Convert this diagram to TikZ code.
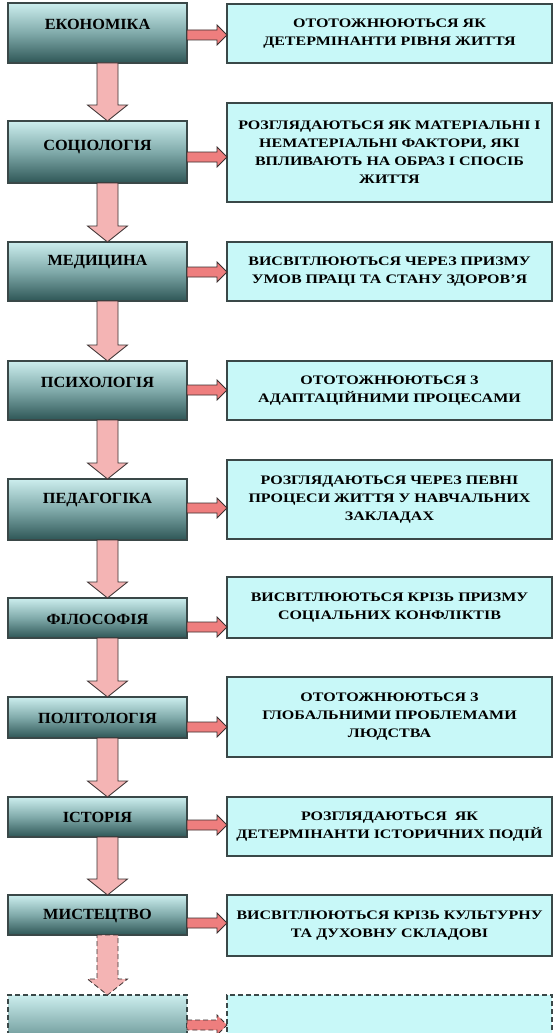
\documentclass[tikz,border=0pt]{standalone}
\usepackage{fontspec}
\setmainfont{Liberation Serif}
\newfontfamily\lfont{Liberation Serif}[FakeStretch=1.05]
\newfontfamily\rfont{Liberation Serif}[FakeStretch=1.23]
\usetikzlibrary{calc}
\definecolor{rfill}{HTML}{C8F8F8}
\definecolor{edge}{HTML}{3A4848}
\definecolor{ltop}{HTML}{CCEEEE}
\definecolor{lmid}{HTML}{80AAAA}
\definecolor{lbot}{HTML}{2E5656}
\definecolor{vpink}{HTML}{F4B4B4}
\definecolor{hpink}{HTML}{EE7E7E}
\definecolor{aedge}{HTML}{3A3030}
\tikzset{
  lbox/.style={draw=edge, line width=1.1pt, top color=ltop, bottom color=lbot, middle color=lmid,
    minimum width=179pt, inner sep=0pt, outer sep=0pt, anchor=north west},
  rbox/.style={draw=edge, line width=1.3pt, fill=rfill, minimum width=325pt, inner sep=0pt,
    outer sep=0pt, anchor=north west, align=center,
    font=\rfont\bfseries\fontsize{13}{18}\selectfont},
  ltext/.style={font=\lfont\bfseries\fontsize{15.5}{18}\selectfont, text=black, inner sep=0pt},
  varrow/.style={draw=aedge, line width=0.8pt, fill=vpink, line join=miter},
  harrow/.style={draw=aedge, line width=0.8pt, fill=hpink, line join=miter},
  dashedline/.style={dash pattern=on 5pt off 3pt}
}
\newcommand\vconn[3][]{%
  \draw[varrow,#1] let \p1=($(#2.south)+(10pt,0pt)$), \p2=($(#3.north)+(10pt,0pt)$) in
    (\x1-10.5pt,\y1) -- (\x1+10.5pt,\y1) -- (\x1+10.5pt,\y2+16pt) -- (\x1+20pt,\y2+16pt)
    -- (\x1,\y2) -- (\x1-20pt,\y2+16pt) -- (\x1-10.5pt,\y2+16pt) -- cycle;}
\newcommand\hconn[4][]{%
  \draw[harrow,#1] let \p1=(#2.east), \p2=(#3.west), \p3=(0,#4) in
    (\x1,\y3+5pt) -- (\x2-10pt,\y3+5pt) -- (\x2-10pt,\y3+10pt) -- (\x2,\y3)
    -- (\x2-10pt,\y3-10pt) -- (\x2-10pt,\y3-5pt) -- (\x1,\y3-5pt) -- cycle;}
\begin{document}
\begin{tikzpicture}[x=1pt,y=-1pt]
\useasboundingbox (0,0) rectangle (555,1033);
\clip (0,0) rectangle (555,1033);
\fill[white] (0,0) rectangle (555,1033);

% left boxes
\node[lbox, minimum height=60pt] (l1) at (8,3) {};
\node[lbox, minimum height=62pt] (l2) at (8,121) {};
\node[lbox, minimum height=59pt] (l3) at (8,242) {};
\node[lbox, minimum height=59pt] (l4) at (8,361) {};
\node[lbox, minimum height=61pt] (l5) at (8,479) {};
\node[lbox, minimum height=40pt] (l6) at (8,598) {};
\node[lbox, minimum height=41pt] (l7) at (8,697) {};
\node[lbox, minimum height=40pt] (l8) at (8,797) {};
\node[lbox, minimum height=40pt] (l9) at (8,895) {};
\node[lbox, dashedline, minimum height=70pt] (l10) at (8,995) {};

% left labels
\node[ltext] (t1) at (97.5,24) {ЕКОНОМІКА};
\node[ltext] (t2) at (97.5,147) {СОЦІОЛОГІЯ};
\node[ltext] (t3) at (97.5,262) {МЕДИЦИНА};
\node[ltext] (t4) at (97.5,382) {ПСИХОЛОГІЯ};
\node[ltext] (t5) at (97.5,500) {ПЕДАГОГІКА};
\node[ltext] (t6) at (97.5,619) {ФІЛОСОФІЯ};
\node[ltext] (t7) at (97.5,718) {ПОЛІТОЛОГІЯ};
\node[ltext] (t8) at (97.5,817) {ІСТОРІЯ};
\node[ltext] (t9) at (97.5,916) {МИСТЕЦТВО};

% right boxes
\node[rbox, minimum height=59pt] (r1) at (227,4) {ОТОТОЖНЮЮТЬСЯ ЯК\\ДЕТЕРМІНАНТИ РІВНЯ ЖИТТЯ};
\node[rbox, minimum height=99pt] (r2) at (227,103) {РОЗГЛЯДАЮТЬСЯ ЯК МАТЕРІАЛЬНІ І\\НЕМАТЕРІАЛЬНІ ФАКТОРИ, ЯКІ\\ВПЛИВАЮТЬ НА ОБРАЗ І СПОСІБ\\ЖИТТЯ};
\node[rbox, minimum height=59pt] (r3) at (227,242) {ВИСВІТЛЮЮТЬСЯ ЧЕРЕЗ ПРИЗМУ\\УМОВ ПРАЦІ ТА СТАНУ ЗДОРОВ’Я};
\node[rbox, minimum height=59pt] (r4) at (227,361) {ОТОТОЖНЮЮТЬСЯ З\\АДАПТАЦІЙНИМИ ПРОЦЕСАМИ};
\node[rbox, minimum height=79pt] (r5) at (227,460) {РОЗГЛЯДАЮТЬСЯ ЧЕРЕЗ ПЕВНІ\\ПРОЦЕСИ ЖИТТЯ У НАВЧАЛЬНИХ\\ЗАКЛАДАХ};
\node[rbox, minimum height=61pt] (r6) at (227,577) {ВИСВІТЛЮЮТЬСЯ КРІЗЬ ПРИЗМУ\\СОЦІАЛЬНИХ КОНФЛІКТІВ};
\node[rbox, minimum height=80pt] (r7) at (227,677) {ОТОТОЖНЮЮТЬСЯ З\\ГЛОБАЛЬНИМИ ПРОБЛЕМАМИ\\ЛЮДСТВА};
\node[rbox, minimum height=59pt] (r8) at (227,797) {РОЗГЛЯДАЮТЬСЯ\ \ ЯК\\ДЕТЕРМІНАНТИ ІСТОРИЧНИХ ПОДІЙ};
\node[rbox, minimum height=61pt] (r9) at (227,895) {ВИСВІТЛЮЮТЬСЯ КРІЗЬ КУЛЬТУРНУ\\ТА ДУХОВНУ СКЛАДОВІ};
\node[rbox, dashedline, minimum height=70pt] (r10) at (227,995) {};

% vertical connectors
\vconn{l1}{l2}
\vconn{l2}{l3}
\vconn{l3}{l4}
\vconn{l4}{l5}
\vconn{l5}{l6}
\vconn{l6}{l7}
\vconn{l7}{l8}
\vconn{l8}{l9}
\vconn[dashedline]{l9}{l10}

% horizontal connectors
\hconn{l1}{r1}{35}
\hconn{l2}{r2}{157}
\hconn{l3}{r3}{272}
\hconn{l4}{r4}{390}
\hconn{l5}{r5}{508}
\hconn{l6}{r6}{627}
\hconn{l7}{r7}{727}
\hconn{l8}{r8}{825}
\hconn{l9}{r9}{923}
\hconn[dashedline]{l10}{r10}{1025}
\end{tikzpicture}
\end{document}
